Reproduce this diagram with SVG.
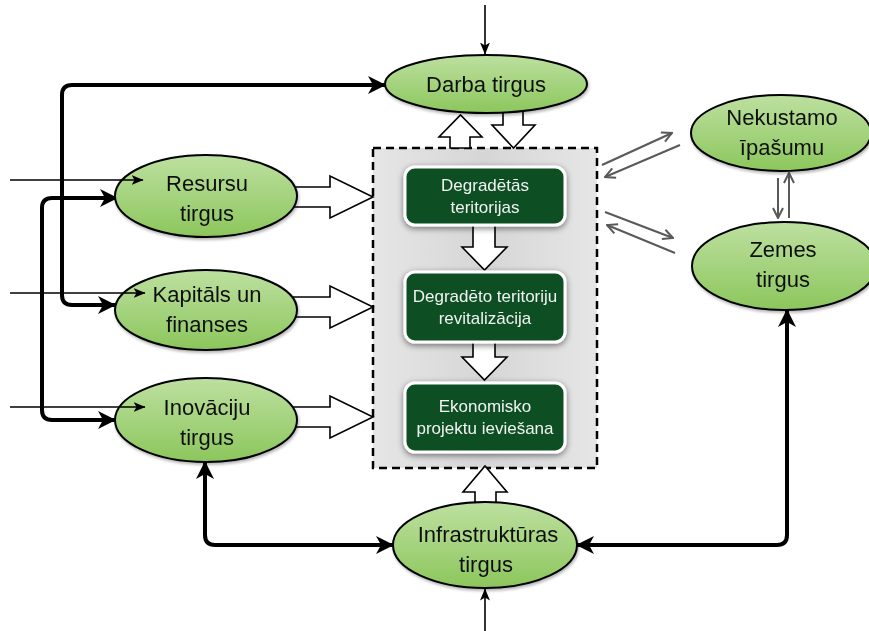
<svg xmlns="http://www.w3.org/2000/svg" width="869" height="631" viewBox="0 0 869 631">
<defs>
  <linearGradient id="gEll" x1="0" y1="0" x2="0" y2="1">
    <stop offset="0" stop-color="#bde0a0"/>
    <stop offset="1" stop-color="#8cc65c"/>
  </linearGradient>
  <linearGradient id="gCont" x1="0" y1="0" x2="1" y2="0">
    <stop offset="0" stop-color="#e6e6e6"/>
    <stop offset="0.5" stop-color="#d6d6d6"/>
    <stop offset="1" stop-color="#e6e6e6"/>
  </linearGradient>
  <filter id="shBox" x="-20%" y="-30%" width="140%" height="160%">
    <feGaussianBlur in="SourceAlpha" stdDeviation="3"/>
    <feOffset dx="0" dy="2" result="b"/>
    <feComponentTransfer><feFuncA type="linear" slope="0.5"/></feComponentTransfer>
    <feMerge><feMergeNode/><feMergeNode in="SourceGraphic"/></feMerge>
  </filter>
  <filter id="shEll" x="-10%" y="-20%" width="120%" height="140%">
    <feGaussianBlur in="SourceAlpha" stdDeviation="1.5"/>
    <feOffset dx="1" dy="2"/>
    <feComponentTransfer><feFuncA type="linear" slope="0.3"/></feComponentTransfer>
    <feMerge><feMergeNode/><feMergeNode in="SourceGraphic"/></feMerge>
  </filter>
  <marker id="mThick" viewBox="0 0 18 18" markerWidth="18" markerHeight="18" refX="17" refY="9" orient="auto-start-reverse" markerUnits="userSpaceOnUse">
    <path d="M0,0 L18,9 L0,18 L5,9 z" fill="#000"/>
  </marker>
  <marker id="mThin" viewBox="0 0 12 12" markerWidth="12" markerHeight="12" refX="11.5" refY="6" orient="auto" markerUnits="userSpaceOnUse">
    <path d="M0,1 L12,6 L0,11 L3,6 z" fill="#000"/>
  </marker>
  <marker id="mGray" viewBox="0 0 12 12" markerWidth="12" markerHeight="12" refX="11" refY="6" orient="auto" markerUnits="userSpaceOnUse">
    <path d="M1,1 L11,6 L1,11" fill="none" stroke="#595959" stroke-width="2"/>
  </marker>
</defs>
<style>
  .ell { fill: url(#gEll); stroke: #000; stroke-width: 2; }
  .etxt { font-family: "Liberation Sans", Arial, sans-serif; font-size: 22px; fill: #111; text-anchor: middle; }
  .box { fill: #0b4f24; stroke: #ffffff; stroke-width: 3; }
  .btxt { font-family: "Liberation Sans", Arial, sans-serif; font-size: 17px; fill: #f2f2f2; text-anchor: middle; }
  .thick { fill: none; stroke: #000; stroke-width: 4; marker-start: url(#mThick); marker-end: url(#mThick); }
  .thin { fill: none; stroke: #000; stroke-width: 1.6; marker-end: url(#mThin); }
  .gray { fill: none; stroke: #595959; stroke-width: 2; marker-end: url(#mGray); }
  .blk { fill: #fff; stroke: #000; stroke-width: 1.6; stroke-linejoin: miter; }
</style>

<g id="container">
  <rect x="373" y="148" width="224" height="320" fill="url(#gCont)" stroke="#000" stroke-width="2.5" stroke-dasharray="8,5"/>
</g>

<g id="connectors">
  <polygon class="blk" points="285,187 330,187 330,176 373,197 330,218 330,207 285,207"/>
  <polygon class="blk" points="285,297 330,297 330,286 373,307 330,328 330,317 285,317"/>
  <polygon class="blk" points="285,407 330,407 330,396 373,417 330,438 330,427 285,427"/>
  <polygon class="blk" points="450,148 450,137 439,137 460.5,115 482,137 470,137 470,148"/>
  <polygon class="blk" points="503,105 503,125 492,125 513.5,148 535,125 523,125 523,105"/>
  <polygon class="blk" points="473,225 473,247 462,247 484.5,270 507,247 495,247 495,225"/>
  <polygon class="blk" points="473,342 473,357 462,357 484.5,380 507,357 495,357 495,342"/>
  <polygon class="blk" points="475,505 475,492 463,492 485,466 507,492 496,492 496,505"/>

  <path class="thick" d="M385,85 H72 Q62,85 62,95 V295 Q62,305 72,305 H115"/>
  <path class="thick" d="M117,198 H52 Q42,198 42,208 V410 Q42,420 52,420 H115"/>
  <path class="thick" d="M205,462 V535 Q205,545 215,545 H393"/>
  <path class="thick" d="M577,545 H777 Q787,545 787,535 V310"/>

  <path class="gray" d="M602,165 L672,133"/>
  <path class="gray" d="M680,145 L605,177"/>
  <path class="gray" d="M605,212 L673,238"/>
  <path class="gray" d="M675,253 L607,225"/>
  <path class="gray" d="M778,178 V218"/>
  <path class="gray" d="M789,218 V173"/>
</g>

<g id="darba" filter="url(#shEll)">
  <ellipse class="ell" cx="486" cy="84" rx="101" ry="29"/>
  <text class="etxt" x="486" y="92">Darba tirgus</text>
</g>
<g id="resursu" filter="url(#shEll)">
  <ellipse class="ell" cx="206" cy="196" rx="91" ry="41"/>
  <text class="etxt" x="207" y="191">Resursu</text>
  <text class="etxt" x="207" y="221">tirgus</text>
</g>
<g id="kapitals" filter="url(#shEll)">
  <ellipse class="ell" cx="206" cy="310" rx="91" ry="40"/>
  <text class="etxt" x="207" y="302">Kapitāls un</text>
  <text class="etxt" x="207" y="332">finanses</text>
</g>
<g id="inovaciju" filter="url(#shEll)">
  <ellipse class="ell" cx="206" cy="420" rx="91" ry="42"/>
  <text class="etxt" x="207" y="415">Inovāciju</text>
  <text class="etxt" x="207" y="445">tirgus</text>
</g>
<g id="infrastrukturas" filter="url(#shEll)">
  <ellipse class="ell" cx="485" cy="545" rx="92" ry="43"/>
  <text class="etxt" x="488" y="542">Infrastruktūras</text>
  <text class="etxt" x="486" y="572">tirgus</text>
</g>
<g id="nekustamo" filter="url(#shEll)">
  <ellipse class="ell" cx="781" cy="133" rx="90" ry="38"/>
  <text class="etxt" x="782" y="125">Nekustamo</text>
  <text class="etxt" x="782" y="155">īpašumu</text>
</g>
<g id="zemes" filter="url(#shEll)">
  <ellipse class="ell" cx="784" cy="266" rx="92" ry="44"/>
  <text class="etxt" x="783" y="257">Zemes</text>
  <text class="etxt" x="783" y="287">tirgus</text>
</g>

<g id="degradetas" filter="url(#shBox)">
  <rect class="box" x="405" y="167" width="160" height="58" rx="10"/>
  <text class="btxt" x="485" y="191">Degradētās</text>
  <text class="btxt" x="485" y="213">teritorijas</text>
</g>
<g id="revitalizacija" filter="url(#shBox)">
  <rect class="box" x="405" y="272" width="160" height="70" rx="10"/>
  <text class="btxt" x="485" y="302">Degradēto teritoriju</text>
  <text class="btxt" x="485" y="324">revitalizācija</text>
</g>
<g id="ekonomisko" filter="url(#shBox)">
  <rect class="box" x="405" y="383" width="160" height="69" rx="10"/>
  <text class="btxt" x="485" y="412">Ekonomisko</text>
  <text class="btxt" x="485" y="434">projektu ieviešana</text>
</g>

<g id="input-connectors">
  <path class="thin" d="M485,5 V54"/>
  <path class="thin" d="M485,631 V589"/>
  <path class="thin" d="M10,180 H143"/>
  <path class="thin" d="M10,293 H145"/>
  <path class="thin" d="M10,407 H145"/>
</g>
</svg>
